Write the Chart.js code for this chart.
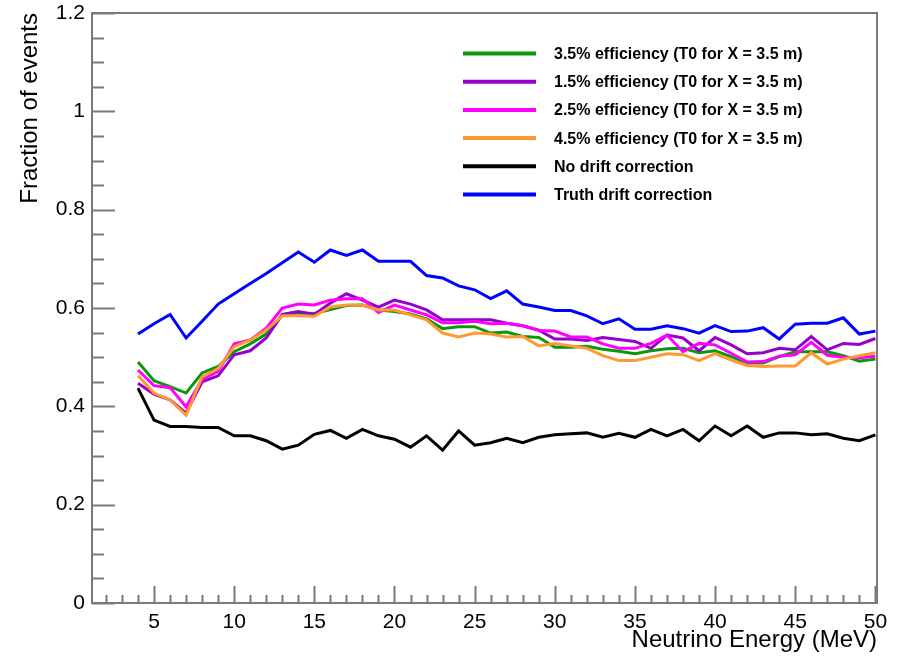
<!DOCTYPE html>
<html>
<head>
<meta charset="utf-8">
<title>Fraction of events vs neutrino energy</title>
<script src="https://cdn.jsdelivr.net/npm/chart.js@4.4.0/dist/chart.umd.min.js"></script>
<style>
  html, body { margin: 0; padding: 0; background: #fff; }
  #plot { display: block; }
</style>
</head>
<body>
<canvas id="plot" width="897" height="656"></canvas>
<script>
// neutrino energy bins (MeV)
const energies = [4, 5, 6, 7, 8, 9, 10, 11, 12, 13,
  14, 15, 16, 17, 18, 19, 20, 21, 22, 23,
  24, 25, 26, 27, 28, 29, 30, 31, 32, 33,
  34, 35, 36, 37, 38, 39, 40, 41, 42, 43,
  44, 45, 46, 47, 48, 49, 50];

const eff35 = [0.490, 0.452, 0.440, 0.427, 0.468, 0.481, 0.511, 0.527, 0.547, 0.586,
  0.590, 0.589, 0.597, 0.605, 0.606, 0.596, 0.593, 0.588, 0.578, 0.558,
  0.562, 0.562, 0.549, 0.551, 0.542, 0.540, 0.520, 0.520, 0.522, 0.516,
  0.512, 0.507, 0.513, 0.517, 0.518, 0.509, 0.513, 0.501, 0.488, 0.488,
  0.501, 0.511, 0.511, 0.511, 0.503, 0.492, 0.496];

const eff15 = [0.447, 0.425, 0.413, 0.386, 0.450, 0.462, 0.505, 0.513, 0.539, 0.587,
  0.593, 0.587, 0.610, 0.629, 0.616, 0.602, 0.616, 0.608, 0.596, 0.576,
  0.576, 0.576, 0.576, 0.569, 0.564, 0.555, 0.537, 0.537, 0.534, 0.540,
  0.536, 0.532, 0.518, 0.545, 0.539, 0.513, 0.540, 0.525, 0.507, 0.509,
  0.518, 0.515, 0.542, 0.515, 0.528, 0.526, 0.538];

const eff25 = [0.474, 0.442, 0.438, 0.399, 0.455, 0.471, 0.527, 0.535, 0.559, 0.600,
  0.608, 0.606, 0.616, 0.619, 0.619, 0.591, 0.606, 0.596, 0.586, 0.570,
  0.570, 0.573, 0.568, 0.569, 0.564, 0.554, 0.553, 0.541, 0.541, 0.527,
  0.518, 0.518, 0.528, 0.545, 0.511, 0.528, 0.525, 0.508, 0.490, 0.491,
  0.502, 0.505, 0.530, 0.504, 0.500, 0.499, 0.502];

const eff45 = [0.462, 0.427, 0.413, 0.382, 0.460, 0.477, 0.521, 0.535, 0.555, 0.584,
  0.584, 0.583, 0.602, 0.606, 0.606, 0.596, 0.596, 0.586, 0.576, 0.549,
  0.541, 0.549, 0.547, 0.541, 0.542, 0.523, 0.528, 0.523, 0.518, 0.503,
  0.493, 0.493, 0.500, 0.507, 0.505, 0.493, 0.507, 0.494, 0.483, 0.481,
  0.482, 0.482, 0.509, 0.486, 0.496, 0.503, 0.509];

const noDrift = [0.437, 0.372, 0.359, 0.359, 0.357, 0.357, 0.340, 0.340, 0.330, 0.313,
  0.321, 0.343, 0.351, 0.335, 0.353, 0.340, 0.333, 0.317, 0.340, 0.311,
  0.350, 0.321, 0.326, 0.335, 0.326, 0.337, 0.342, 0.344, 0.346, 0.337,
  0.345, 0.337, 0.353, 0.340, 0.353, 0.330, 0.360, 0.340, 0.360, 0.337,
  0.346, 0.346, 0.342, 0.344, 0.335, 0.330, 0.342];

const truthDrift = [0.547, 0.568, 0.587, 0.539, 0.573, 0.608, 0.629, 0.650, 0.670, 0.692,
  0.714, 0.693, 0.718, 0.707, 0.718, 0.695, 0.695, 0.695, 0.666, 0.661,
  0.645, 0.637, 0.619, 0.635, 0.608, 0.602, 0.595, 0.595, 0.584, 0.568,
  0.578, 0.557, 0.557, 0.564, 0.558, 0.549, 0.564, 0.552, 0.553, 0.560,
  0.537, 0.567, 0.569, 0.569, 0.580, 0.547, 0.553];

const seriesNames = [
  '3.5% efficiency (T0 for X = 3.5 m)',
  '1.5% efficiency (T0 for X = 3.5 m)',
  '2.5% efficiency (T0 for X = 3.5 m)',
  '4.5% efficiency (T0 for X = 3.5 m)',
  'No drift correction',
  'Truth drift correction'
];
const seriesValues = [eff35, eff15, eff25, eff45, noDrift, truthDrift];
const seriesColors = ['#0a990a', '#9400cc', '#ff00ff', '#ff9933', '#000000', '#0000ff'];
const drawOrder = [4, 3, 2, 1, 0, 0];

const xTicks = [5, 10, 15, 20, 25, 30, 35, 40, 45, 50];
const yTicks = [0, 0.2, 0.4, 0.6, 0.8, 1, 1.2];

const FONT = '"Liberation Sans", Arial, Helvetica, sans-serif';

// frame box and inward ticks, ROOT style
const rootFrame = {
  id: 'rootFrame',
  afterDatasetsDraw(chart) {
    const { ctx, chartArea: a, scales: { x, y } } = chart;
    ctx.save();
    ctx.strokeStyle = '#7a7a7a';
    ctx.lineWidth = 2;
    ctx.strokeRect(a.left, a.top, a.right - a.left, a.bottom - a.top);
    ctx.beginPath();
    for (let v = 2; v <= 50; v++) {
      const px = Math.round(x.getPixelForValue(v)) + 0.5;
      const len = v % 5 === 0 ? 17 : 8;
      ctx.moveTo(px, a.bottom);
      ctx.lineTo(px, a.bottom - len);
    }
    for (let i = 0; i <= 24; i++) {
      const py = Math.round(y.getPixelForValue(i * 0.05)) + 0.5;
      const len = i % 4 === 0 ? 23 : 12;
      ctx.moveTo(a.left, py);
      ctx.lineTo(a.left + len, py);
    }
    ctx.stroke();
    ctx.restore();
  }
};

// legend inside the pad, no border
const padLegend = {
  id: 'padLegend',
  afterDraw(chart) {
    const ctx = chart.ctx;
    ctx.save();
    ctx.font = 'bold 16px ' + FONT;
    ctx.textBaseline = 'middle';
    ctx.textAlign = 'left';
    ctx.lineWidth = 4;
    chart.data.datasets.forEach((ds, i) => {
      const yy = 53.5 + i * 28.2;
      ctx.strokeStyle = ds.borderColor;
      ctx.beginPath();
      ctx.moveTo(463, yy);
      ctx.lineTo(536, yy);
      ctx.stroke();
      ctx.fillStyle = '#000';
      ctx.fillText(ds.label, 554, yy + 1);
    });
    ctx.restore();
  }
};

const datasets = seriesNames.map((name, s) => ({
  label: name,
  data: energies.map((e, i) => ({ x: e, y: seriesValues[s][i] })),
  borderColor: seriesColors[s],
  backgroundColor: seriesColors[s],
  borderWidth: 3,
  pointRadius: 0,
  tension: 0,
  fill: false,
  order: drawOrder[s]
}));

new Chart(document.getElementById('plot'), {
  type: 'line',
  data: { datasets },
  options: {
    responsive: false,
    animation: false,
    devicePixelRatio: 1,
    layout: { padding: { top: 13, right: 20, left: 0, bottom: 0 } },
    plugins: {
      legend: { display: false },
      tooltip: { enabled: false }
    },
    scales: {
      x: {
        type: 'linear',
        min: 1.13,
        max: 50.1,
        afterBuildTicks: (scale) => { scale.ticks = xTicks.map(v => ({ value: v })); },
        afterFit: (scale) => {
          scale.height = 53;
          scale.paddingLeft = 0;
          scale.paddingRight = 0;
        },
        grid: { display: false, drawTicks: false },
        border: { display: false },
        ticks: {
          color: '#000',
          font: { family: FONT, size: 21 },
          padding: 7,
          maxRotation: 0,
          autoSkip: false
        },
        title: {
          display: true,
          text: 'Neutrino Energy (MeV)',
          align: 'end',
          color: '#000',
          font: { family: FONT, size: 24 },
          padding: { top: 0, bottom: 1 }
        }
      },
      y: {
        min: 0,
        max: 1.2,
        afterBuildTicks: (scale) => { scale.ticks = yTicks.map(v => ({ value: v })); },
        afterFit: (scale) => {
          scale.width = 92;
          scale.paddingTop = 0;
          scale.paddingBottom = 0;
        },
        grid: { display: false, drawTicks: false },
        border: { display: false },
        ticks: {
          color: '#000',
          font: { family: FONT, size: 21 },
          padding: 7,
          autoSkip: false,
          callback: (v) => String(+v.toFixed(1))
        },
        title: {
          display: true,
          text: 'Fraction of events',
          align: 'end',
          color: '#000',
          font: { family: FONT, size: 24 },
          padding: { top: 16, bottom: 0 }
        }
      }
    }
  },
  plugins: [rootFrame, padLegend]
});
</script>
</body>
</html>
